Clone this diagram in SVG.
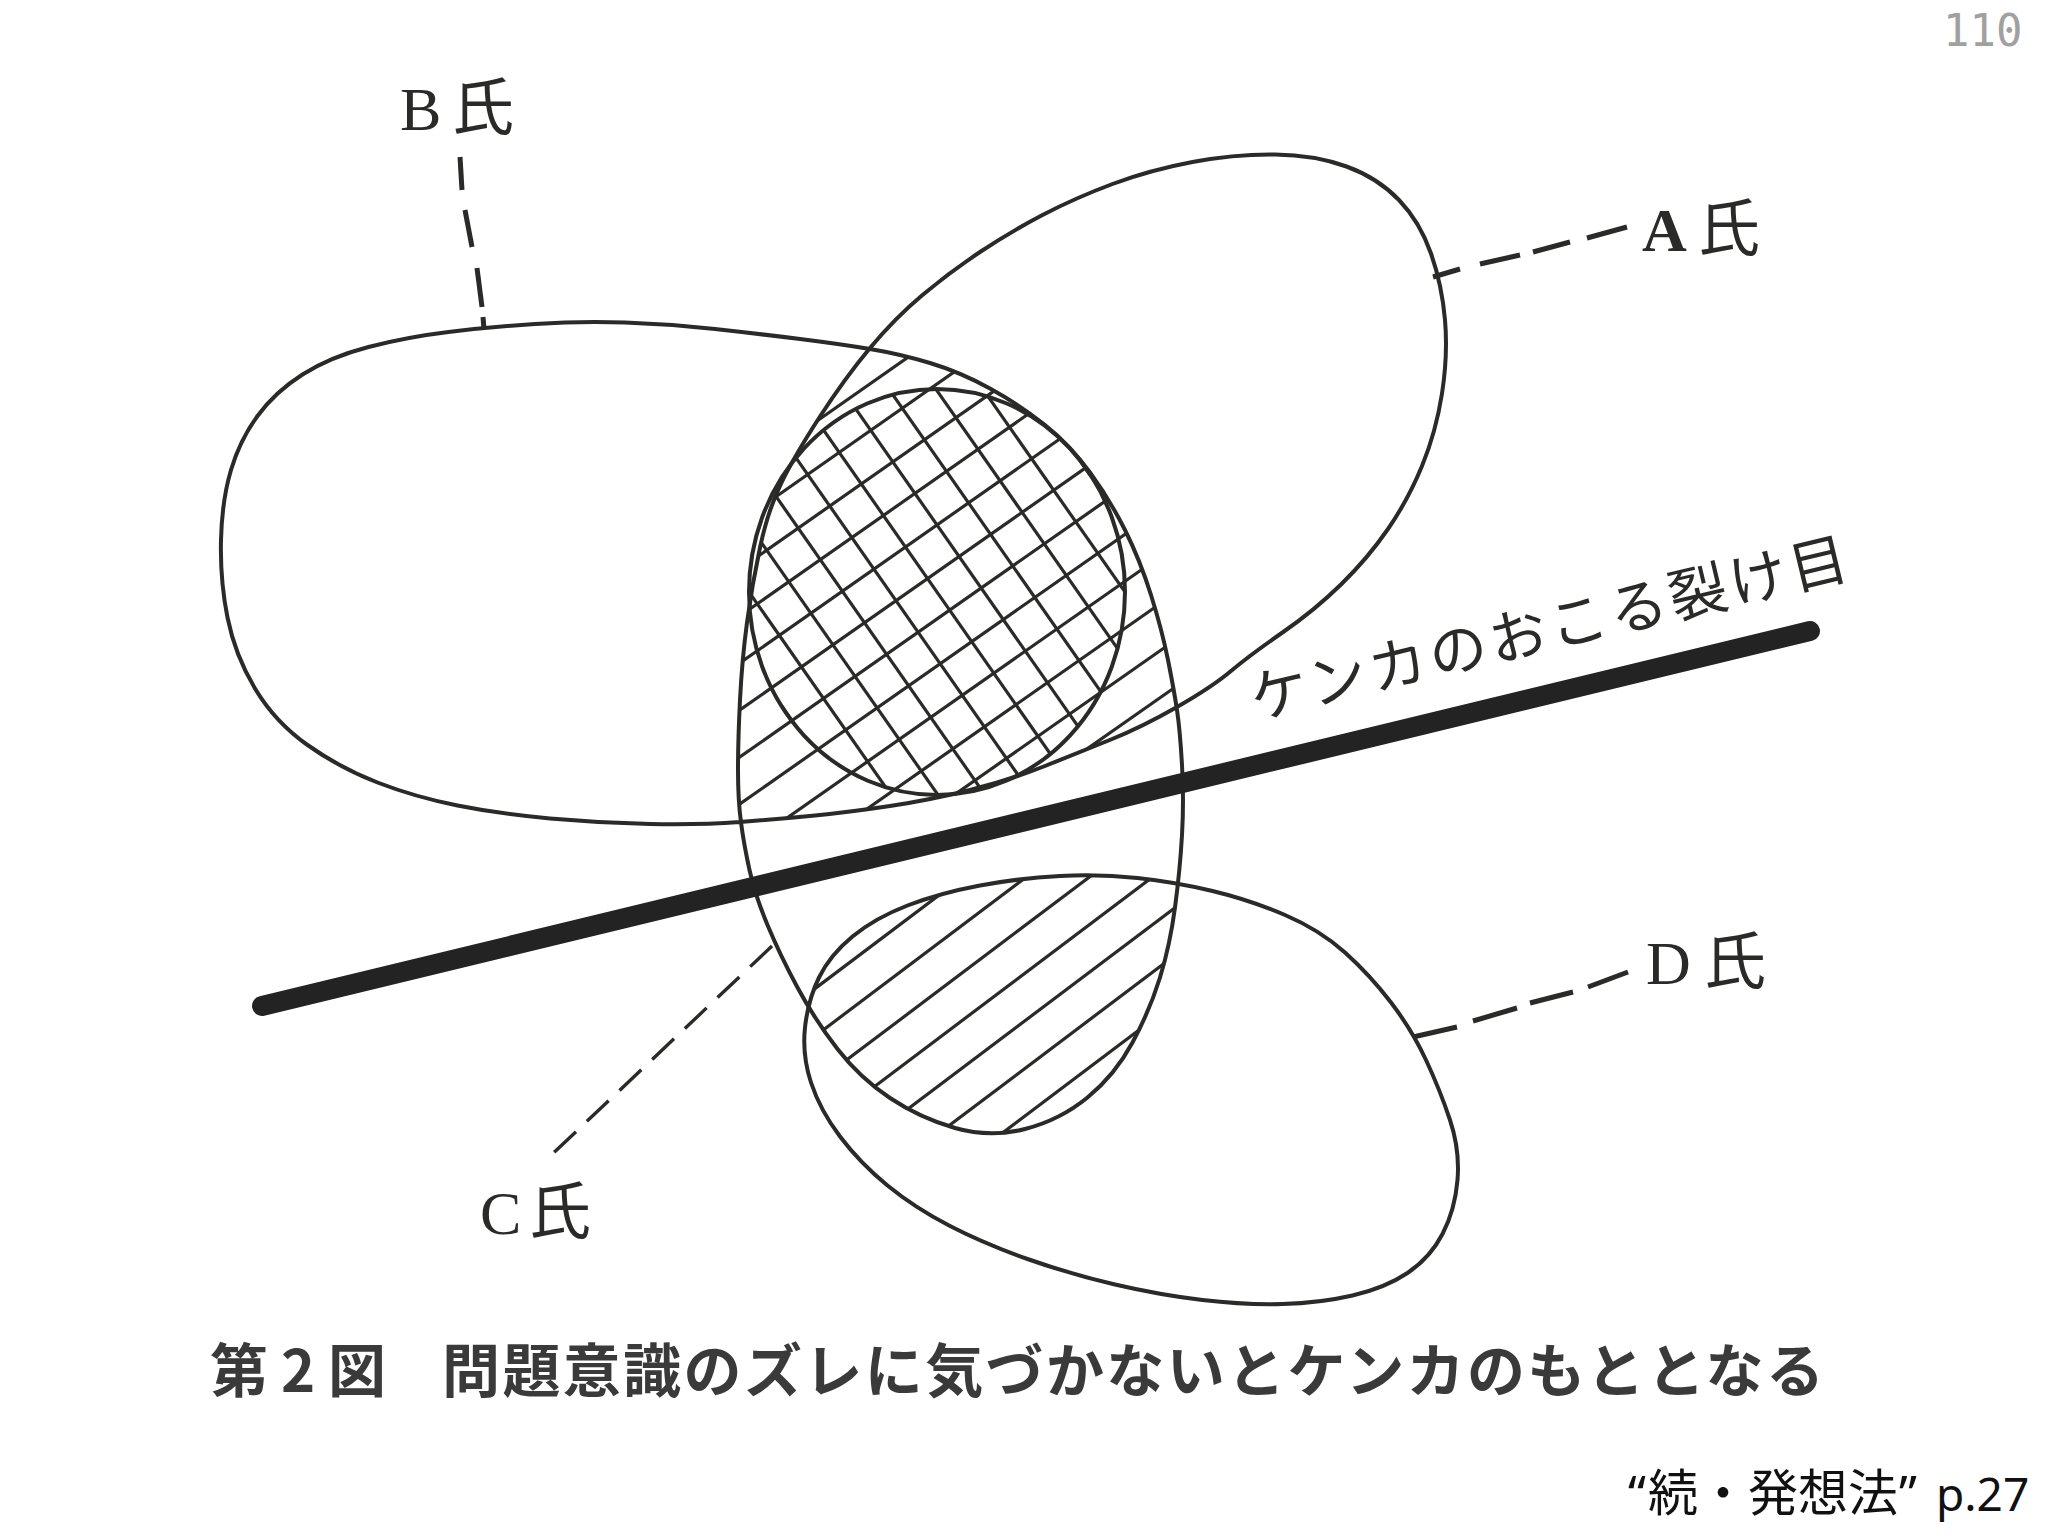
<svg xmlns="http://www.w3.org/2000/svg" width="2048" height="1536" viewBox="0 0 2048 1536">
<style>
.ol{fill:none;stroke:#2a2a28;stroke-width:4;stroke-linejoin:round;stroke-linecap:round}
.ht{stroke:#2a2a28;stroke-width:3.2}
.ld{stroke:#2a2a28;stroke-width:5;stroke-linecap:butt;fill:none}
.lat{font-family:"Liberation Serif","DejaVu Serif",serif;fill:#2a2a28}
.cjk{font-family:"Noto Sans CJK JP","Noto Sans CJK SC",sans-serif;fill:#2a2a28}
</style>
<defs>
<clipPath id="clipH1"><path d="M870,349 Q900,354 930,363 Q960,372 990,388.5 Q1020,405 1045,425 Q1070,445 1090,472.5 Q1110,500 1125,530 Q1140,560 1151,595 Q1162,630 1168,660 Q1174,690 1177,710 L1177,707 Q1142,727 1111,739.5 Q1080,752 1045,766 Q1010,780 970,790 Q930,800 890,806 Q850,812 815,815.5 Q780,819 740,822 L741,822.5 Q738,800 738,770 Q738,740 740,700 Q742,660 747,622.5 Q752,585 760,547.5 Q768,510 781.5,482.5 Q795,455 820,416.5 Q845,378 870,348 Z"/></clipPath>
<clipPath id="clipC"><path d="M870,349 Q900,354 930,363 Q960,372 990,388.5 Q1020,405 1045,425 Q1070,445 1090,472.5 Q1110,500 1125,530 Q1140,560 1151,595 Q1162,630 1168,660 Q1174,690 1177,710 Q1180,730 1182,765 Q1184,800 1182,835 Q1180,870 1175,907.5 Q1170,945 1160,977.5 Q1150,1010 1132.5,1042.5 Q1115,1075 1087.5,1097.5 Q1060,1120 1025,1129 Q990,1138 955,1128 Q920,1118 890,1098 Q860,1078 837.5,1049 Q815,1020 797.5,987.5 Q780,955 767.5,925 Q755,895 749.5,870 Q744,845 741,822.5 Q738,800 738,770 Q738,740 740,700 Q742,660 747,622.5 Q752,585 760,547.5 Q768,510 781.5,482.5 Q795,455 820,416.5 Q845,378 870,348 Z"/></clipPath>
<clipPath id="clipD"><path d="M805,1027.5 Q808,1000 819,977.5 Q830,955 852.5,936.5 Q875,918 907.5,905.5 Q940,893 980,885.5 Q1020,878 1060,876 Q1100,874 1137.5,878 Q1175,882 1212.5,891 Q1250,900 1285,915 Q1320,930 1345,952.5 Q1370,975 1391,1002.5 Q1412,1030 1426,1060 Q1440,1090 1450,1120 Q1460,1150 1457.5,1180 Q1455,1210 1442.5,1234 Q1430,1258 1407.5,1273 Q1385,1288 1352.5,1295.5 Q1320,1303 1282.5,1304 Q1245,1305 1202.5,1300 Q1160,1295 1115,1284.5 Q1070,1274 1027.5,1259 Q985,1244 950,1226 Q915,1208 887.5,1185.5 Q860,1163 840,1136.5 Q820,1110 811,1082.5 Q802,1055 805,1027.5 Z"/></clipPath>
<clipPath id="clipE"><ellipse cx="937" cy="592" rx="188" ry="203"/></clipPath>
</defs>
<rect width="2048" height="1536" fill="#ffffff"/>

<g id="hatching">
  <g id="hatch-ABC" clip-path="url(#clipH1)">
    <line class="ht" x1="650" y1="1054.9" x2="1250" y2="634.8"/>
    <line class="ht" x1="650" y1="1007.9" x2="1250" y2="587.8"/>
    <line class="ht" x1="650" y1="960.9" x2="1250" y2="540.8"/>
    <line class="ht" x1="650" y1="913.9" x2="1250" y2="493.8"/>
    <line class="ht" x1="650" y1="866.9" x2="1250" y2="446.8"/>
    <line class="ht" x1="650" y1="819.9" x2="1250" y2="399.8"/>
    <line class="ht" x1="650" y1="772.9" x2="1250" y2="352.8"/>
    <line class="ht" x1="650" y1="725.9" x2="1250" y2="305.8"/>
    <line class="ht" x1="650" y1="678.9" x2="1250" y2="258.8"/>
    <line class="ht" x1="650" y1="631.9" x2="1250" y2="211.8"/>
    <line class="ht" x1="650" y1="584.9" x2="1250" y2="164.8"/>
    <line class="ht" x1="650" y1="537.9" x2="1250" y2="117.8"/>
    <g clip-path="url(#clipE)">
      <line class="ht" x1="532.5" y1="350" x2="882.6" y2="850"/>
      <line class="ht" x1="579.5" y1="350" x2="929.6" y2="850"/>
      <line class="ht" x1="626.5" y1="350" x2="976.6" y2="850"/>
      <line class="ht" x1="673.5" y1="350" x2="1023.6" y2="850"/>
      <line class="ht" x1="720.5" y1="350" x2="1070.6" y2="850"/>
      <line class="ht" x1="767.5" y1="350" x2="1117.6" y2="850"/>
      <line class="ht" x1="814.5" y1="350" x2="1164.6" y2="850"/>
      <line class="ht" x1="861.5" y1="350" x2="1211.6" y2="850"/>
      <line class="ht" x1="908.5" y1="350" x2="1258.6" y2="850"/>
      <line class="ht" x1="955.5" y1="350" x2="1305.6" y2="850"/>
      <line class="ht" x1="1002.5" y1="350" x2="1352.6" y2="850"/>
    </g>
  </g>
  <g id="hatch-CD" clip-path="url(#clipC)">
    <g clip-path="url(#clipD)">
      <line class="ht" x1="600" y1="1150.6" x2="1400" y2="547.8"/>
      <line class="ht" x1="600" y1="1198.2" x2="1400" y2="595.4"/>
      <line class="ht" x1="600" y1="1245.8" x2="1400" y2="643.0"/>
      <line class="ht" x1="600" y1="1293.4" x2="1400" y2="690.6"/>
      <line class="ht" x1="600" y1="1341.0" x2="1400" y2="738.2"/>
      <line class="ht" x1="600" y1="1388.6" x2="1400" y2="785.8"/>
      <line class="ht" x1="600" y1="1436.2" x2="1400" y2="833.4"/>
    </g>
  </g>
</g>

<g id="node-ABC">
  <path class="ol" d="M221,540 Q222,500 231,470 Q240,440 257.5,416 Q275,392 302.5,374.5 Q330,357 368.5,347 Q407,337 448.5,332 Q490,327 535,324 Q580,321 625,322.5 Q670,324 715,329 Q760,334 800,339 Q840,344 870,349 Q900,354 930,363 Q960,372 990,388.5 Q1020,405 1045,425 Q1070,445 1090,472.5 Q1110,500 1125,530 Q1140,560 1151,595 Q1162,630 1168,660 Q1174,690 1177,710 Q1180,730 1182,765 Q1184,800 1182,835 Q1180,870 1175,907.5 Q1170,945 1160,977.5 Q1150,1010 1132.5,1042.5 Q1115,1075 1087.5,1097.5 Q1060,1120 1025,1129 Q990,1138 955,1128 Q920,1118 890,1098 Q860,1078 837.5,1049 Q815,1020 797.5,987.5 Q780,955 767.5,925 Q755,895 749.5,870 Q744,845 741,822.5 Q738,800 738,770 Q738,740 740,700 Q742,660 747,622.5 Q752,585 760,547.5 Q768,510 781.5,482.5 Q795,455 820,416.5 Q845,378 870,348 Q895,318 922.5,295 Q950,272 980,252 Q1010,232 1042.5,215 Q1075,198 1112.5,184 Q1150,170 1192.5,162 Q1235,154 1275,154.5 Q1315,155 1346.5,166.5 Q1378,178 1399,200 Q1420,222 1431,253.5 Q1442,285 1445,320 Q1448,355 1442,393.5 Q1436,432 1422,466 Q1408,500 1388,529 Q1368,558 1341.5,584 Q1315,610 1282.5,632.5 Q1250,655 1231,671 Q1212,687 1177,707 Q1142,727 1111,739.5 Q1080,752 1045,766 Q1010,780 970,790 Q930,800 890,806 Q850,812 815,815.5 Q780,819 740,822 Q700,825 650,824 Q600,823 550,818.5 Q500,814 457.5,805.5 Q415,797 377.5,782.5 Q340,768 307.5,745 Q275,722 255,688.5 Q235,655 227.5,617.5 Q220,580 221,540 Z"/>
</g>
<g id="node-D">
  <path class="ol" d="M805,1027.5 Q808,1000 819,977.5 Q830,955 852.5,936.5 Q875,918 907.5,905.5 Q940,893 980,885.5 Q1020,878 1060,876 Q1100,874 1137.5,878 Q1175,882 1212.5,891 Q1250,900 1285,915 Q1320,930 1345,952.5 Q1370,975 1391,1002.5 Q1412,1030 1426,1060 Q1440,1090 1450,1120 Q1460,1150 1457.5,1180 Q1455,1210 1442.5,1234 Q1430,1258 1407.5,1273 Q1385,1288 1352.5,1295.5 Q1320,1303 1282.5,1304 Q1245,1305 1202.5,1300 Q1160,1295 1115,1284.5 Q1070,1274 1027.5,1259 Q985,1244 950,1226 Q915,1208 887.5,1185.5 Q860,1163 840,1136.5 Q820,1110 811,1082.5 Q802,1055 805,1027.5 Z"/>
</g>
<g id="node-core">
  <ellipse class="ol" cx="937" cy="592" rx="188" ry="203"/>
</g>

<g id="crack">
  <line x1="262" y1="1006" x2="1810" y2="631" stroke="#232323" stroke-width="20" stroke-linecap="round"/>
  <text class="cjk" x="1256" y="720" font-size="58" textLength="612" lengthAdjust="spacing" transform="rotate(-13.5 1256 720)">ケンカのおこる裂け目</text>
</g>

<g id="connectors">
  <g id="leader-B">
    <line class="ld" x1="460" y1="157" x2="462" y2="190"/>
    <line class="ld" x1="465" y1="210" x2="472" y2="247"/>
    <line class="ld" x1="477" y1="268" x2="482" y2="307"/>
    <line class="ld" x1="483" y1="317" x2="484" y2="329"/>
  </g>
  <g id="leader-A">
    <line class="ld" x1="1433" y1="277" x2="1460" y2="269"/>
    <line class="ld" x1="1480" y1="264" x2="1520" y2="255"/>
    <line class="ld" x1="1533" y1="252" x2="1570" y2="242"/>
    <line class="ld" x1="1587" y1="238" x2="1627" y2="227"/>
  </g>
  <g id="leader-D">
    <line class="ld" x1="1413" y1="1037" x2="1457" y2="1027"/>
    <line class="ld" x1="1473" y1="1021" x2="1517" y2="1008"/>
    <line class="ld" x1="1530" y1="1003" x2="1573" y2="992"/>
    <line class="ld" x1="1588" y1="987" x2="1628" y2="972"/>
  </g>
  <g id="leader-C">
    <line x1="772" y1="946" x2="545" y2="1161" stroke="#2a2a28" stroke-width="3.4" stroke-dasharray="30 15"/>
  </g>
</g>

<g id="label-B"><text y="130" font-size="62"><tspan class="lat" x="400">B</tspan><tspan class="cjk" x="452">氏</tspan></text></g>
<g id="label-A"><text y="251" font-size="62"><tspan class="lat" x="1642" font-weight="bold">A</tspan><tspan class="cjk" x="1698">氏</tspan></text></g>
<g id="label-D"><text y="984" font-size="62"><tspan class="lat" x="1646">D</tspan><tspan class="cjk" x="1704">氏</tspan></text></g>
<g id="label-C"><text y="1234" font-size="62"><tspan class="lat" x="480">C</tspan><tspan class="cjk" x="529">氏</tspan></text></g>

<g id="caption" font-family="Noto Sans CJK JP, Noto Sans CJK SC, sans-serif" font-weight="700" fill="#3a3a3a" font-size="58">
  <text y="1392"><tspan x="210">第</tspan><tspan x="281">2</tspan><tspan x="328">図</tspan></text>
  <text x="442" y="1392" textLength="1382" lengthAdjust="spacing">問題意識のズレに気づかないとケンカのもととなる</text>
</g>

<text id="page-number" x="1943" y="46" font-family="DejaVu Sans Mono, monospace" font-size="44" fill="#a0a0a0">110</text>

<g id="source" fill="#111111" font-size="50">
  <text y="1511"><tspan x="1628" font-family="Noto Sans, sans-serif">“</tspan><tspan x="1648" font-family="Noto Sans CJK JP, sans-serif">続・発想法</tspan><tspan x="1899" font-family="Noto Sans, sans-serif">”</tspan><tspan x="1936" font-family="Noto Sans, sans-serif" font-size="46">p.27</tspan></text>
</g>
</svg>
